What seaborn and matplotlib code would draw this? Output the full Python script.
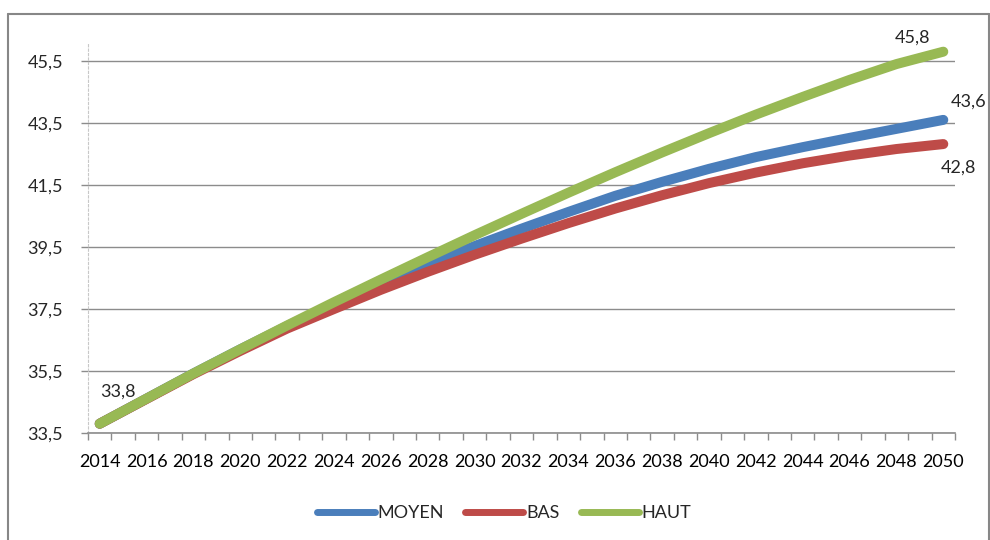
import matplotlib
matplotlib.use('Agg')
import matplotlib.pyplot as plt
from matplotlib.lines import Line2D
from matplotlib.ticker import FixedLocator, FuncFormatter
import numpy as np
import pandas as pd
import seaborn as sns

# data (every 2 years)
years = [2014, 2016, 2018, 2020, 2022, 2024, 2026, 2028, 2030, 2032,
         2034, 2036, 2038, 2040, 2042, 2044, 2046, 2048, 2050]
moyen = [33.80, 34.61, 35.42, 36.20, 36.95, 37.67, 38.33, 38.95, 39.53, 40.09,
         40.63, 41.15, 41.60, 42.02, 42.40, 42.72, 43.02, 43.31, 43.60]
bas = [33.80, 34.60, 35.40, 36.15, 36.87, 37.50, 38.12, 38.70, 39.25, 39.77,
       40.27, 40.74, 41.17, 41.56, 41.90, 42.20, 42.45, 42.66, 42.82]
haut = [33.80, 34.61, 35.42, 36.20, 36.97, 37.72, 38.45, 39.17, 39.88, 40.57,
        41.25, 41.91, 42.55, 43.17, 43.77, 44.34, 44.89, 45.40, 45.80]
series_names = ['MOYEN', 'BAS', 'HAUT']
colors = ['#4A7EBB', '#BE4B48', '#98B954']
yticks = [33.5, 35.5, 37.5, 39.5, 41.5, 43.5, 45.5]

df = pd.DataFrame({'annee': years, 'MOYEN': moyen, 'BAS': bas, 'HAUT': haut})
long = df.melt(id_vars='annee', var_name='scenario', value_name='valeur')

sns.set_style('white')
plt.rcParams['font.family'] = ['Lato', 'DejaVu Sans']

fig = plt.figure(figsize=(9.9, 5.4), dpi=100)
ax = fig.add_axes([88 / 990, 1 - 433 / 540, (955 - 88) / 990, (433 - 43) / 540])

sns.lineplot(data=long, x='annee', y='valeur', hue='scenario',
             hue_order=series_names, palette=colors, linewidth=7.2,
             legend=False, ax=ax)
for ln in ax.get_lines():
    ln.set_solid_capstyle('round')
    ln.set_solid_joinstyle('round')

ax.set_xlim(2013.5, 2050.5)
ax.set_ylim(33.5, 46.08)
ax.set_xlabel('')
ax.set_ylabel('')

# grid and axes styling (Excel look)
ax.set_yticks(yticks)
ax.yaxis.set_major_formatter(FuncFormatter(lambda v, p: f'{v:.1f}'.replace('.', ',')))
ax.grid(axis='y', color='#8C8C8C', linewidth=1.0)
ax.set_axisbelow(True)
ax.set_xticks(years)
ax.set_xticklabels([str(y) for y in years])
ax.xaxis.set_minor_locator(FixedLocator(np.arange(2013.5, 2051, 1)))
ax.tick_params(axis='x', which='major', length=0, pad=15, labelsize=13, colors='black')
ax.tick_params(axis='x', which='minor', length=5, width=1, color='#8C8C8C', direction='out')
ax.tick_params(axis='y', length=5, width=1, color='#8C8C8C', pad=13, labelsize=13)
ax.tick_params(axis='x', which='minor', bottom=True)
ax.tick_params(axis='y', left=True)

for s in ['top', 'right']:
    ax.spines[s].set_visible(False)
ax.spines['bottom'].set_color('#8C8C8C')
ax.spines['bottom'].set_linewidth(1.2)
ax.spines['left'].set_color('#C8C8C8')
ax.spines['left'].set_linewidth(0.8)
ax.spines['left'].set_linestyle((0, (2, 2)))

# data labels
ax.annotate('33,8', (years[0], haut[0]), xytext=(13, 23), textcoords='offset points',
            ha='center', va='center', fontsize=13)
ax.annotate('45,8', (years[-1], haut[-1]), xytext=(-22, 10), textcoords='offset points',
            ha='center', va='center', fontsize=13)
ax.annotate('43,6', (years[-1], moyen[-1]), xytext=(18, 13), textcoords='offset points',
            ha='center', va='center', fontsize=13, annotation_clip=False)
ax.annotate('42,8', (years[-1], bas[-1]), xytext=(11, -17), textcoords='offset points',
            ha='center', va='center', fontsize=13, annotation_clip=False)

# legend
handles = [Line2D([0], [0], color=c, linewidth=5, solid_capstyle='round') for c in colors]
fig.legend(handles, series_names, loc='center', bbox_to_anchor=(504 / 990, 1 - 513 / 540),
           ncol=3, frameon=False, fontsize=13, handlelength=3.2, handletextpad=0.15,
           columnspacing=1.2)

# outer chart border
border = dict(color='#878787', linewidth=1.5, transform=fig.transFigure)
fig.add_artist(Line2D([8 / 990, 989 / 990], [1 - 14 / 540, 1 - 14 / 540], **border))
fig.add_artist(Line2D([8 / 990, 8 / 990], [1 - 14 / 540, 0], **border))
fig.add_artist(Line2D([989 / 990, 989 / 990], [1 - 14 / 540, 0], **border))

fig.savefig('out.png', dpi=100)
